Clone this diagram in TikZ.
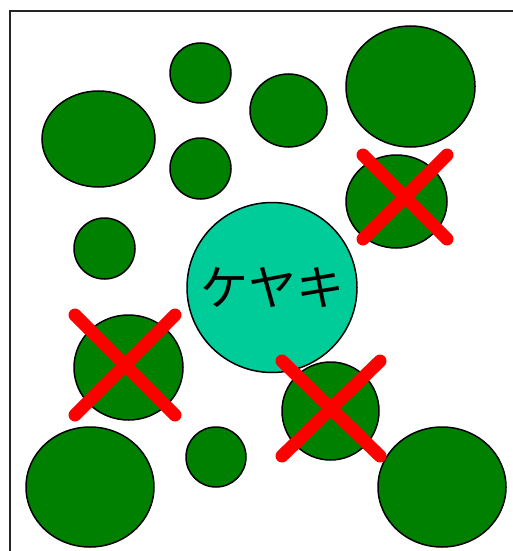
\documentclass[tikz,border=0pt]{standalone}
\usepackage{fontspec}
\newfontfamily\jpfont{Noto Sans CJK JP}
\usepackage{xcolor}
\usetikzlibrary{calc}
\definecolor{treegreen}{HTML}{008000}
\definecolor{keyakigreen}{HTML}{00CC99}

\begin{document}
\begin{tikzpicture}[x=1pt, y=-1pt,
    tree/.style={draw=black, fill=treegreen, line width=1.5pt},
    keyaki/.style={circle, draw=black, fill=keyakigreen, line width=1.5pt,
                   minimum size=170pt, inner sep=0pt, font=\jpfont\fontsize{48}{52}\selectfont},
    cross/.style={red, line width=13pt, line cap=round}]
  \useasboundingbox (0,0) rectangle (513,551);
  % ---- frame: top and left edges only
  \draw[line width=2pt, black!85] (10,551) -- (10,11) -- (513,11);
  % ---- surrounding trees: x, y, rx, ry
  \foreach \x/\y/\rx/\ry in {200.5/73/30.5/30, 98.5/139/56.5/48, 288.5/110.5/38.5/36.5,
                             410.5/86.5/64.5/60.5, 200.5/168.5/30.5/30.5, 396.5/201.5/50.5/46.5,
                             104.5/248.5/30.5/30.5, 128.5/367.5/54.5/52.5, 330.5/411/48.5/49,
                             216/457/30/30, 90/487/64/60, 442/487/64/60}
    \draw[tree] (\x,\y) ellipse ({\rx} and {\ry});
  % ---- the keyaki
  \node[keyaki] (keyaki) at (272,287.5) {ケヤキ};
  % ---- trees to be removed: centre x, centre y, half width, half height
  \foreach \cx/\cy/\hx/\hy in {405/197/42/42, 125/365/50/50, 331/408.5/49/47.5}
  {
    \draw[cross] (\cx-\hx,\cy-\hy) -- (\cx+\hx,\cy+\hy);
    \draw[cross] (\cx+\hx,\cy-\hy) -- (\cx-\hx,\cy+\hy);
  }
\end{tikzpicture}
\end{document}
